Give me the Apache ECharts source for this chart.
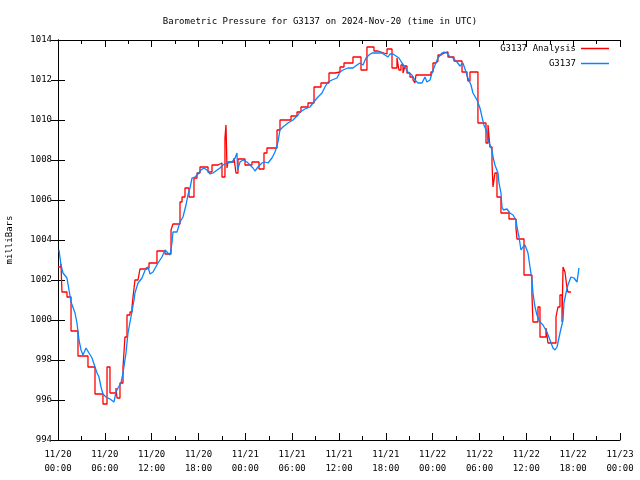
<!DOCTYPE html>
<html>
<head>
<meta charset="utf-8">
<script src="https://cdn.jsdelivr.net/npm/echarts@6/dist/echarts.min.js"></script>
<style>html,body{margin:0;padding:0;background:#fff;}#c{width:640px;height:480px;}</style>
</head>
<body>
<div id="c"></div>
<script>
var titleText = 'Barometric Pressure for G3137 on 2024-Nov-20 (time in UTC)';
var yTitle = 'milliBars';
var seriesNames = ['G3137 Analysis', 'G3137'];
var yMin = 994, yMax = 1014, yStep = 2;
var xMinHours = 0, xMaxHours = 72, xStepHours = 6;

// Observation series (hours since 11/20 00:00 UTC, mbar)
var obsHours = [0.13,0.38,0.64,1.15,1.41,1.67,2.18,2.43,2.69,2.95,3.20,3.59,3.97,4.36,4.74,5.00,5.25,5.51,5.76,6.15,6.66,7.17,7.43,7.69,8.07,8.33,8.71,8.97,9.35,9.74,9.86,10.25,10.76,11.27,11.53,11.79,12.17,12.81,13.32,13.71,14.09,14.35,14.60,14.73,15.24,15.63,16.01,16.40,16.65,16.91,17.17,17.55,17.94,18.32,18.70,19.09,19.47,19.86,20.11,20.75,21.14,21.65,22.29,22.68,22.93,23.00,23.32,23.70,24.21,24.60,24.98,25.24,25.62,26.13,26.52,26.90,27.41,27.80,28.18,28.44,28.82,29.46,30.11,30.75,31.00,31.64,32.28,32.67,33.18,33.82,34.20,34.59,35.10,35.74,36.13,36.51,37.15,37.79,38.30,38.69,39.07,39.46,39.84,40.23,40.87,41.51,41.89,42.28,42.53,42.92,43.30,43.68,44.07,44.45,44.84,45.35,45.73,46.12,46.63,47.01,47.27,47.66,47.91,48.30,48.68,49.19,49.45,49.83,50.22,50.60,51.11,51.50,51.88,52.27,52.52,52.91,53.16,53.68,54.06,54.32,54.57,54.96,55.09,55.60,55.73,55.98,56.37,56.50,56.75,56.88,57.07,57.52,57.90,58.29,58.67,58.80,59.06,59.31,59.57,59.83,60.21,60.47,60.72,60.85,61.11,61.36,61.75,62.13,62.64,63.03,63.41,63.67,63.93,64.31,64.70,64.82,65.08,65.33,65.72,66.10,66.49,66.62,66.74];
var obsValues = [1003.5,1002.75,1002.35,1002.1,1001.5,1000.9,1000.35,999.85,999.0,998.5,998.25,998.6,998.35,998.1,997.65,997.35,997.15,996.65,996.3,996.15,996.05,995.9,996.4,996.6,996.85,997.35,998.35,999.35,1000.15,1001.0,1001.35,1001.85,1002.1,1002.6,1002.65,1002.3,1002.4,1002.85,1003.15,1003.5,1003.35,1003.25,1003.85,1004.4,1004.4,1004.9,1005.15,1005.75,1006.25,1006.6,1007.1,1007.15,1007.3,1007.5,1007.6,1007.5,1007.3,1007.35,1007.4,1007.6,1007.75,1007.85,1007.9,1008.1,1008.35,1007.5,1007.9,1008.0,1007.9,1007.75,1007.6,1007.45,1007.65,1007.85,1007.9,1007.85,1008.1,1008.4,1008.9,1009.5,1009.65,1009.85,1010.0,1010.25,1010.4,1010.55,1010.65,1010.85,1011.1,1011.35,1011.65,1011.9,1012.0,1012.1,1012.4,1012.5,1012.6,1012.6,1012.75,1012.85,1012.75,1013.1,1013.25,1013.35,1013.35,1013.35,1013.25,1013.15,1013.3,1013.3,1013.2,1013.1,1012.85,1012.65,1012.4,1012.25,1012.0,1011.85,1011.85,1012.15,1011.9,1012.0,1012.35,1012.75,1013.1,1013.35,1013.4,1013.35,1013.15,1013.1,1012.9,1012.7,1012.85,1012.4,1012.1,1011.75,1011.35,1011.0,1010.6,1010.15,1009.75,1009.4,1009.0,1008.5,1008.15,1007.75,1007.35,1006.85,1006.35,1005.65,1005.5,1005.55,1005.35,1005.25,1005.0,1004.65,1004.15,1003.5,1003.65,1003.75,1003.35,1002.65,1002.0,1001.35,1000.65,1000.25,999.9,999.75,999.4,999.0,998.6,998.5,998.65,999.35,1000.0,1000.85,1001.35,1001.75,1002.15,1002.1,1001.9,1002.25,1002.6];

// Analysis series: start hour of each step level, mbar
var anaHours = [0,0.38,0.51,1.15,1.67,2.56,3.84,4.74,5.76,6.28,6.66,7.43,7.56,7.94,8.33,8.58,8.84,9.22,9.48,9.61,9.86,10.25,10.50,11.40,11.66,12.68,13.71,14.48,14.73,15.63,15.89,16.27,16.78,17.42,17.81,18.19,19.22,19.73,20.50,21.01,21.39,21.52,21.65,21.78,22.55,22.80,23.06,23.96,24.85,25.75,26.39,26.77,28.06,28.44,29.85,30.62,31.13,32.03,32.80,33.69,34.72,35.49,36.13,36.64,37.79,38.82,39.58,40.48,40.99,41.76,42.15,42.79,43.43,43.68,43.94,44.20,44.45,44.71,45.09,45.48,45.73,45.86,47.78,48.04,48.42,48.68,49.06,49.45,49.96,50.73,51.76,52.40,52.52,52.78,53.80,54.83,55.09,55.34,55.60,55.73,55.98,56.24,56.75,57.78,58.67,58.80,59.70,60.72,60.85,61.49,61.75,62.52,62.77,63.80,64.05,64.31,64.57,64.70,64.95,65.08,65.21,65.33,65.72];
var anaValues = [1002.65,1002.8,1001.4,1001.15,999.45,998.2,997.65,996.3,995.8,997.65,996.35,996.6,996.1,996.85,997.65,999.15,1000.25,1000.4,1000.65,1001.15,1002.0,1002.1,1002.55,1002.6,1002.85,1003.45,1003.3,1004.5,1004.8,1005.9,1006.15,1006.6,1006.15,1007.1,1007.35,1007.65,1007.4,1007.75,1007.85,1007.15,1009.1,1009.75,1007.6,1007.9,1008.1,1007.35,1008.05,1007.75,1007.9,1007.55,1008.35,1008.6,1009.5,1010.0,1010.2,1010.4,1010.65,1010.85,1011.65,1011.85,1012.35,1012.4,1012.65,1012.85,1013.15,1012.5,1013.65,1013.45,1013.35,1013.3,1013.55,1012.6,1013.1,1012.5,1012.75,1012.35,1012.7,1012.35,1012.15,1012.0,1011.85,1012.25,1012.4,1012.85,1012.95,1013.25,1013.35,1013.4,1013.15,1012.95,1012.4,1012.25,1011.95,1012.4,1009.85,1008.85,1009.75,1008.65,1007.85,1006.65,1007.35,1006.15,1005.35,1005.05,1004.6,1004.05,1002.25,1001.25,999.9,1000.65,999.15,999.6,998.85,1000.15,1000.65,1001.25,999.9,1002.65,1002.4,1002.0,1001.6,1001.4,1001.4];

function zip(a, b) { var r = []; for (var i = 0; i < a.length; i++) r.push([a[i], b[i]]); return r; }

var FONT = 'DejaVu Sans Mono';
var FS = 9;
function xLabel(v) {
  var d = 20 + Math.floor(v / 24);
  var h = v % 24;
  var hh = (h < 10 ? '0' : '') + h;
  return '11/' + d + '\n' + hh + ':00';
}
function yLabel(v) { return String(v); }

var chart = echarts.init(document.getElementById('c'), null, {renderer: 'canvas'});
var axisLine = {show: true, lineStyle: {color: '#000', width: 1}};
var legendBase = {orient: 'vertical', right: 26, align: 'right', icon: 'rect',
  itemWidth: 28, itemHeight: 1.5, itemGap: 4,
  textStyle: {fontFamily: FONT, fontSize: FS, color: '#000'}};
chart.setOption({
  backgroundColor: '#fff',
  animation: false,
  title: {
    text: titleText, left: 'center', top: 12,
    textStyle: {fontFamily: FONT, fontSize: FS, fontWeight: 'normal', color: '#000'}
  },
  legend: [
    Object.assign({}, legendBase, {data: [seriesNames[0]], top: 39}),
    Object.assign({}, legendBase, {data: [seriesNames[1]], top: 54})
  ],
  grid: {left: 58, right: 20, top: 40, bottom: 40, containLabel: false, outerBoundsMode: 'none'},
  xAxis: [
    {type: 'value', min: xMinHours, max: xMaxHours, interval: xStepHours, position: 'bottom',
     axisLine: axisLine,
     axisTick: {show: true, inside: true, length: 7, lineStyle: {color: '#000'}},
     minorTick: {show: true, splitNumber: 2, length: 4, lineStyle: {color: '#000'}},
     axisLabel: {formatter: xLabel, fontFamily: FONT, fontSize: FS, color: '#000', margin: 8, lineHeight: 14},
     splitLine: {show: false}},
    {type: 'value', min: xMinHours, max: xMaxHours, interval: xStepHours, position: 'top',
     axisLine: axisLine,
     axisTick: {show: true, inside: true, length: 7, lineStyle: {color: '#000'}},
     minorTick: {show: true, splitNumber: 2, length: 4, lineStyle: {color: '#000'}},
     axisLabel: {show: false}, splitLine: {show: false}}
  ],
  yAxis: [
    {type: 'value', min: yMin, max: yMax, interval: yStep, position: 'left',
     name: yTitle, nameLocation: 'middle', nameGap: 44, nameRotate: 90,
     nameTextStyle: {fontFamily: FONT, fontSize: FS, color: '#000'},
     axisLine: axisLine,
     axisTick: {show: true, inside: true, length: 7, lineStyle: {color: '#000'}},
     axisLabel: {formatter: yLabel, fontFamily: FONT, fontSize: FS, color: '#000', margin: 6},
     splitLine: {show: false}},
    {type: 'value', min: yMin, max: yMax, interval: yStep, position: 'right',
     axisLine: axisLine,
     axisTick: {show: true, inside: true, length: 7, lineStyle: {color: '#000'}},
     axisLabel: {show: false}, splitLine: {show: false}}
  ],
  series: [
    {name: seriesNames[0], type: 'line', step: 'end', symbol: 'none',
     data: zip(anaHours, anaValues), xAxisIndex: 0, yAxisIndex: 0,
     lineStyle: {color: '#ff0000', width: 1.3}, itemStyle: {color: '#ff0000'}, z: 2},
    {name: seriesNames[1], type: 'line', symbol: 'none',
     data: zip(obsHours, obsValues), xAxisIndex: 0, yAxisIndex: 0,
     lineStyle: {color: '#0a84ff', width: 1.3}, itemStyle: {color: '#0a84ff'}, z: 3}
  ]
});
</script>
</body>
</html>
